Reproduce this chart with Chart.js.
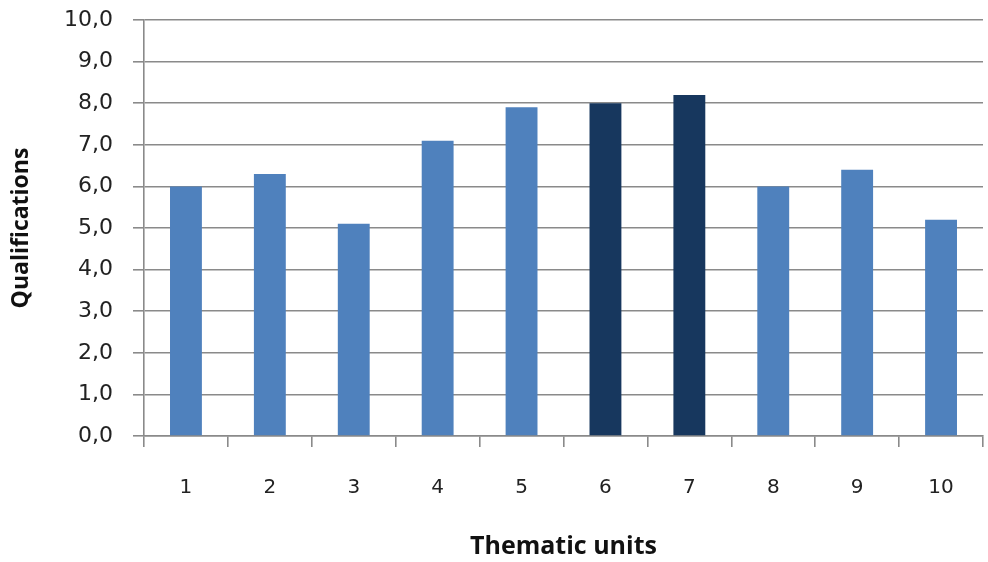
<!DOCTYPE html>
<html>
<head>
<meta charset="utf-8">
<script src="https://cdn.jsdelivr.net/npm/chart.js@4.4.1/dist/chart.umd.min.js"></script>
<style>
  html, body { margin: 0; padding: 0; background: #ffffff; }
  #wrap { width: 988px; height: 562px; }
</style>
</head>
<body>
<div id="wrap"><canvas id="chart" width="988" height="562"></canvas></div>
<script>
// Thematic units and their average qualification
const units = ['1', '2', '3', '4', '5', '6', '7', '8', '9', '10'];
const qualifications = [6.0, 6.3, 5.1, 7.1, 7.9, 8.0, 8.2, 6.0, 6.4, 5.2];
// units highlighted with the darker fill
const highlighted = ['6', '7'];
const yTicks = [0, 1, 2, 3, 4, 5, 6, 7, 8, 9, 10];

const lightBlue = '#4f81bd';
const darkBlue = '#17375e';
const gridGray = '#8a8a8a';

const barColors = units.map(u => highlighted.includes(u) ? darkBlue : lightBlue);

new Chart(document.getElementById('chart'), {
  type: 'bar',
  data: {
    labels: units,
    datasets: [{
      data: qualifications,
      backgroundColor: barColors,
      borderWidth: 0,
      barPercentage: 0.38,
      categoryPercentage: 1.0
    }]
  },
  options: {
    responsive: false,
    animation: false,
    layout: { padding: { top: 20, right: 5, left: 0, bottom: 0 } },
    plugins: { legend: { display: false }, tooltip: { enabled: false } },
    scales: {
      x: {
        offset: true,
        grid: {
          display: true,
          offset: true,
          drawOnChartArea: false,
          drawTicks: true,
          tickLength: 11,
          color: gridGray,
          lineWidth: 1.6
        },
        border: { display: true, color: gridGray, width: 1.6 },
        ticks: {
          color: '#222222',
          font: { family: 'DejaVu Sans', size: 20 },
          padding: 29,
          maxRotation: 0
        },
        title: {
          display: true,
          text: 'Thematic units',
          color: '#111111',
          font: { family: 'Open Sans', size: 25, weight: 'bold' },
          padding: { top: 0, bottom: 0 }
        },
        afterFit: s => { s.height = 126; }
      },
      y: {
        min: 0,
        max: 10,
        afterBuildTicks: s => { s.ticks = yTicks.map(v => ({ value: v })); },
        grid: {
          color: gridGray,
          lineWidth: 1.6,
          tickLength: 11,
          drawTicks: true
        },
        border: { display: true, color: gridGray, width: 1.6 },
        ticks: {
          color: '#222222',
          font: { family: 'DejaVu Sans', size: 22 },
          padding: 20,
          callback: v => v.toFixed(1).replace('.', ',')
        },
        title: {
          display: true,
          text: 'Qualifications',
          color: '#111111',
          font: { family: 'Open Sans', size: 23, weight: 'bold' },
          padding: { top: 8, bottom: 0 }
        },
        afterFit: s => {
          s.width = 144;
          // the top label fits inside the layout padding
          s.paddingTop = 0;
          s.paddingBottom = 0;
        }
      }
    }
  }
});
</script>
</body>
</html>
